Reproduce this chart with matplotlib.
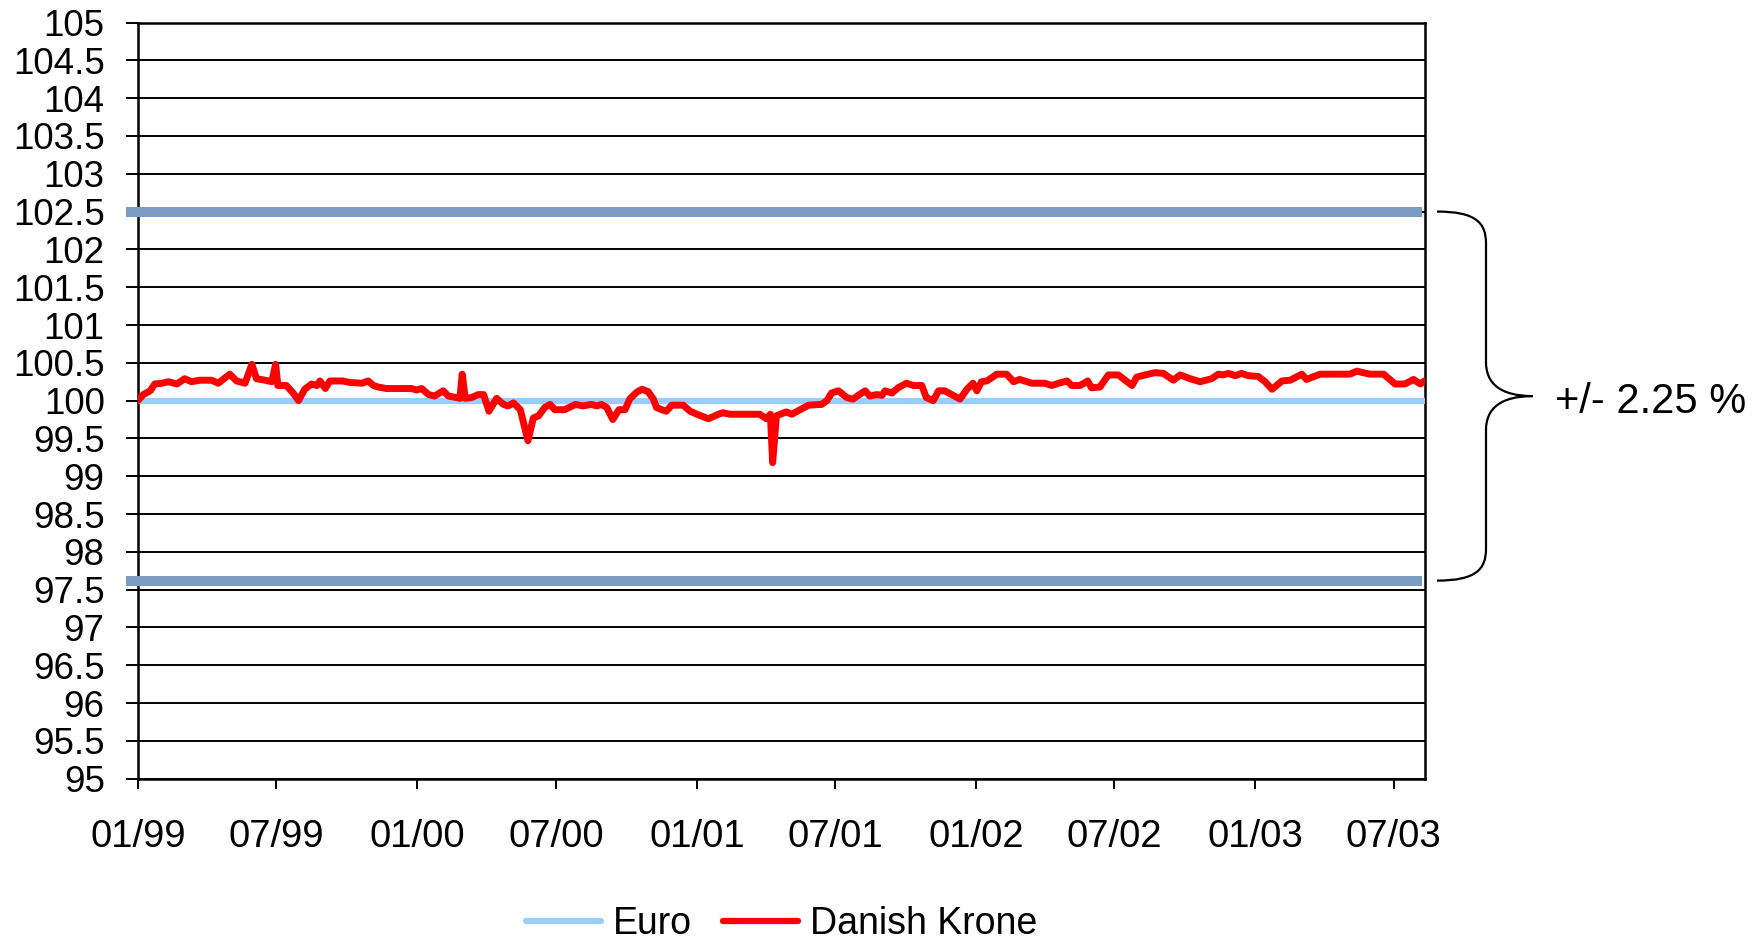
import numpy as np
import pandas as pd
import matplotlib
matplotlib.use("Agg")
import matplotlib.pyplot as plt
import matplotlib.dates as mdates
from matplotlib.path import Path
from matplotlib.patches import PathPatch
from matplotlib.transforms import blended_transform_factory

plt.rcParams["font.family"] = ["Liberation Sans", "DejaVu Sans"]

# DKK against the euro central rate (index, central rate = 100)
start = pd.Timestamp("1999-01-01")
days = [0, 7, 16, 22, 31, 40, 51, 61, 70, 81, 96, 105, 120, 129, 140, 149, 155,
        166, 175, 180, 183, 194, 203, 210, 218, 227, 234, 238, 245, 251, 268, 277,
        293, 301, 308, 314, 325, 358, 364, 371, 380, 388, 399, 406, 417, 421, 424,
        428, 436, 445, 452, 459, 469, 478, 484, 491, 500, 510, 517, 524, 532, 539,
        545, 558, 572, 582, 593, 600, 606, 613, 621, 629, 637, 643, 652, 659, 667,
        674, 678, 685, 691, 698, 713, 722, 731, 746, 759, 765, 774, 813, 822, 827,
        830, 835, 840, 848, 855, 866, 877, 894, 901, 907, 916, 927, 935, 942, 951,
        957, 966, 973, 977, 986, 994, 1005, 1014, 1025, 1031, 1040, 1047, 1055,
        1064, 1075, 1084, 1092, 1097, 1103, 1110, 1119, 1123, 1136, 1145, 1153,
        1169, 1186, 1195, 1204, 1215, 1221, 1232, 1242, 1247, 1258, 1269, 1282,
        1291, 1300, 1306, 1317, 1330, 1341, 1354, 1363, 1376, 1389, 1404, 1413,
        1419, 1426, 1435, 1443, 1452, 1465, 1474, 1483, 1496, 1507, 1522, 1528,
        1546, 1557, 1585, 1594, 1602, 1611, 1629, 1637, 1644, 1657, 1668, 1677,
        1682]
dkk = [100.00, 100.08, 100.13, 100.22, 100.23, 100.25, 100.22, 100.29, 100.25,
       100.27, 100.27, 100.23, 100.35, 100.26, 100.23, 100.48, 100.29, 100.27,
       100.25, 100.48, 100.20, 100.20, 100.10, 100.00, 100.15, 100.22, 100.20,
       100.26, 100.16, 100.26, 100.26, 100.24,
       100.23, 100.26, 100.20, 100.18, 100.16, 100.16, 100.14, 100.16, 100.08,
       100.06, 100.13, 100.06, 100.04, 100.03, 100.35, 100.03, 100.04, 100.08,
       100.08, 99.86, 100.03, 99.95, 99.93, 99.97, 99.88, 99.47, 99.77, 99.80,
       99.91, 99.95, 99.88, 99.88,
       99.95, 99.93, 99.95, 99.93, 99.95, 99.91, 99.75, 99.88, 99.88, 100.02,
       100.11, 100.15, 100.12, 100.02, 99.91, 99.88, 99.86, 99.94, 99.94, 99.86,
       99.82, 99.76, 99.82, 99.84, 99.82, 99.82, 99.76, 99.82, 99.18, 99.80,
       99.82,
       99.85, 99.82, 99.88, 99.94, 99.95, 100.00, 100.10, 100.13, 100.04, 100.02,
       100.07, 100.13, 100.06, 100.08, 100.07, 100.13, 100.10, 100.17, 100.23,
       100.20, 100.20, 100.04, 100.00, 100.13, 100.13, 100.08, 100.02, 100.15,
       100.23, 100.13, 100.25, 100.26, 100.32,
       100.35, 100.35, 100.25, 100.28, 100.23, 100.23, 100.20, 100.23, 100.26,
       100.20, 100.20, 100.26, 100.17, 100.18, 100.34, 100.34, 100.27, 100.20,
       100.31, 100.34, 100.37, 100.36, 100.27, 100.34, 100.29, 100.25, 100.29,
       100.35, 100.34, 100.36, 100.33, 100.36, 100.33, 100.32, 100.25, 100.15,
       100.26, 100.27, 100.35, 100.28, 100.35, 100.35, 100.35, 100.39, 100.37,
       100.35, 100.35, 100.28, 100.22, 100.22, 100.28, 100.22, 100.26]
euro_central = 100.0
band_upper = 102.5
band_lower = 97.62
band_text = "+/- 2.25 %"

dates = start + pd.to_timedelta(days, unit="D")
euro = [euro_central] * len(dates)

fig = plt.figure(figsize=(17.62, 9.39), dpi=100)
ax = fig.add_axes([0.0783, 0.1707, 0.7304, 0.8053])

ax.plot(dates, euro, color="#99CCFF", lw=4.5, solid_capstyle="round",
        label="Euro", zorder=4)
ax.plot(dates, dkk, color="#FF0000", lw=5.0, solid_capstyle="round",
        solid_joinstyle="round", label="Danish Krone", zorder=5)

# fluctuation band
for b in (band_upper, band_lower):
    ax.axhline(b, xmin=-0.0093, xmax=0.9977, color="#7A9CC0", lw=7.2,
               solid_capstyle="butt", clip_on=False, zorder=3)

ax.set_ylim(95, 105)
ax.set_yticks(np.arange(95, 105.01, 0.5))
ax.set_yticklabels([f"{v:g}" for v in np.arange(95, 105.01, 0.5)])
ax.set_xlim(start, start + pd.Timedelta(days=1683))
ax.xaxis.set_major_locator(mdates.MonthLocator(bymonth=[1, 7]))
ax.xaxis.set_major_formatter(mdates.DateFormatter("%m/%y"))

ax.yaxis.grid(True, color="black", lw=1.4)
ax.set_axisbelow(True)
for s in ax.spines.values():
    s.set_linewidth(1.8)
    s.set_color("black")
ax.tick_params(axis="y", direction="out", length=8.5, width=1.4,
               labelsize=26.5, pad=15.5)
ax.tick_params(axis="x", direction="out", length=7, width=1.4,
               labelsize=27.5, pad=22)

leg = ax.legend(loc="center", bbox_to_anchor=(0.5, -0.192), ncol=2,
                frameon=False, fontsize=27, handlelength=2.0,
                handletextpad=0.3, columnspacing=0.85,
                borderpad=0, borderaxespad=0)
for line in leg.get_lines():
    line.set_linewidth(4.5)
    line.set_solid_capstyle("round")

# curly brace spanning the band
tr = blended_transform_factory(fig.transFigure, ax.transData)
mid = (band_upper + band_lower) / 2
fx = lambda px: px / 1762
x0, x1, x2 = fx(1437), fx(1486), fx(1533)
verts = [(x0, band_upper), (fx(1476), band_upper), (x1, band_upper - 0.15), (x1, band_upper - 0.42),
         (x1, mid + 0.45),
         (x1, mid + 0.17), (fx(1500), mid), (x2, mid),
         (fx(1500), mid), (x1, mid - 0.17), (x1, mid - 0.45),
         (x1, band_lower + 0.42),
         (x1, band_lower + 0.15), (fx(1476), band_lower), (x0, band_lower)]
codes = [Path.MOVETO, Path.CURVE4, Path.CURVE4, Path.CURVE4, Path.LINETO,
         Path.CURVE4, Path.CURVE4, Path.CURVE4,
         Path.CURVE4, Path.CURVE4, Path.CURVE4, Path.LINETO,
         Path.CURVE4, Path.CURVE4, Path.CURVE4]
fig.add_artist(PathPatch(Path(verts, codes), transform=tr, fill=False,
                         lw=1.6, edgecolor="black"))
fig.text(fx(1555), mid - 0.08, band_text, transform=tr, fontsize=30,
         va="center", ha="left")

fig.savefig("out.png", dpi=100, facecolor="white")
